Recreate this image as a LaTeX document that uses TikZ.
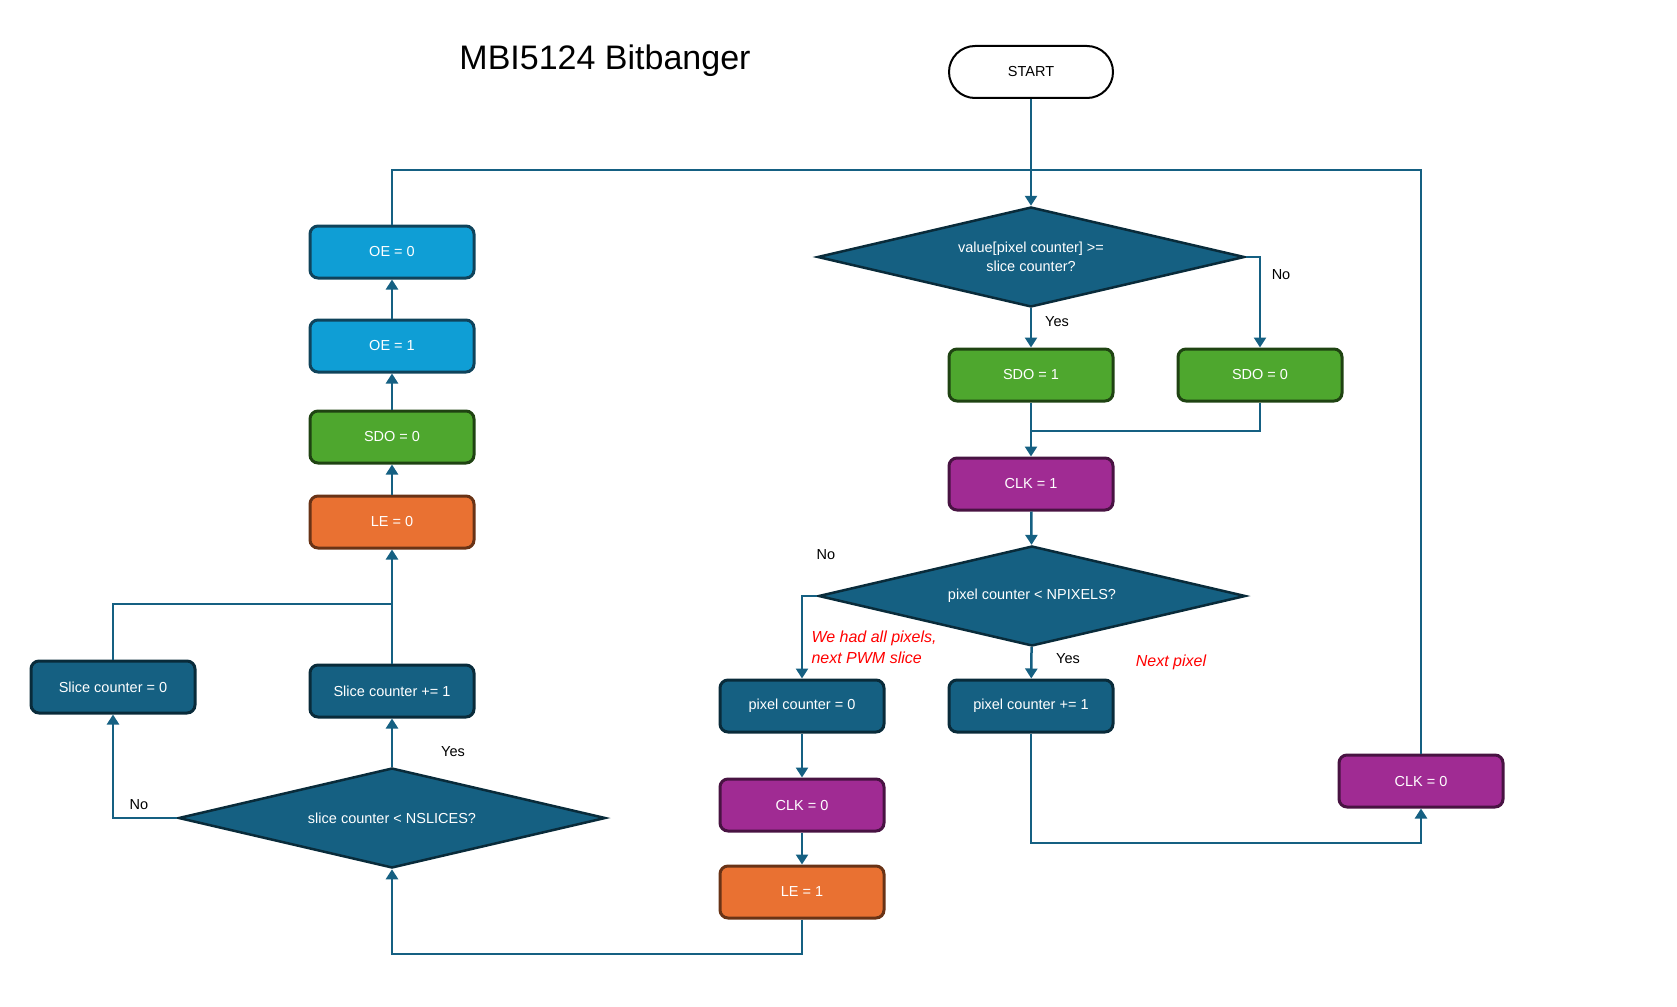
\documentclass[tikz,border=0pt]{standalone}
\usepackage{fontspec}
\setmainfont{Liberation Sans}
\usetikzlibrary{shapes.geometric,arrows.meta}

\definecolor{darkteal}{HTML}{156082}
\definecolor{skyblue}{HTML}{0F9ED5}
\definecolor{leafgreen}{HTML}{4EA72E}
\definecolor{carrot}{HTML}{E97132}
\definecolor{plum}{HTML}{A02B93}

\begin{document}
\begin{tikzpicture}
    [x=1pt,y=-1pt,
     boxstyle/.style={rectangle,rounded corners=8pt,line width=3pt,text=white,
       minimum width=164pt,minimum height=52pt,font=\fontsize{14.5}{18}\selectfont},
     tealbox/.style={boxstyle,fill=darkteal,draw=darkteal!45!black},
     skybox/.style={boxstyle,fill=skyblue,draw=darkteal!70!black},
     greenbox/.style={boxstyle,fill=leafgreen,draw=leafgreen!40!black},
     orangebox/.style={boxstyle,fill=carrot,draw=carrot!45!black},
     plumbox/.style={boxstyle,fill=plum,draw=plum!45!black},
     decision/.style={diamond,aspect=4.2,inner sep=0pt,line width=2.5pt,fill=darkteal,
       draw=darkteal!45!black,text=white,align=center,
       minimum width=427pt,minimum height=100pt,font=\fontsize{14.5}{19}\selectfont},
     flow/.style={draw=darkteal,line width=2.5pt},
     flowarrow/.style={flow,-{Triangle[length=10pt,width=12pt]}},
     answer/.style={font=\fontsize{14.5}{18}\selectfont},
     remark/.style={text=red,align=left,font=\fontsize{16}{21}\selectfont\itshape}]

    \useasboundingbox (0,0) rectangle (1677,1006);

    \node [font=\fontsize{34}{40}\selectfont] (title) at (605,61) {MBI5124 Bitbanger};
    \node [rectangle,rounded corners=26pt,draw=black,line width=2pt,fill=white,
      minimum width=164pt,minimum height=52pt,font=\fontsize{14.5}{18}\selectfont] (start) at (1031,72) {START};

    % right column
    \node [decision] (pixval) at (1031,257) {value[pixel counter] >=\\slice counter?};
    \node [greenbox] (sdohigh) at (1031,375) {SDO = 1};
    \node [greenbox] (sdolow) at (1260,375) {SDO = 0};
    \node [plumbox] (clkhigh) at (1031,484) {CLK = 1};
    \node [decision] (pixcount) at (1032,596) {pixel counter < NPIXELS?};
    \node [tealbox] (pixreset) at (802,706) {pixel counter = 0};
    \node [tealbox] (pixnext) at (1031,706) {pixel counter += 1};
    \node [plumbox] (clklowa) at (802,805) {CLK = 0};
    \node [orangebox] (lehigh) at (802,892) {LE = 1};
    \node [plumbox] (clklowb) at (1421,781) {CLK = 0};

    % left column
    \node [skybox] (oelow) at (392,252) {OE = 0};
    \node [skybox] (oehigh) at (392,346) {OE = 1};
    \node [greenbox] (sdoend) at (392,437) {SDO = 0};
    \node [orangebox] (lelow) at (392,522) {LE = 0};
    \node [tealbox] (slicereset) at (113,687) {Slice counter = 0};
    \node [tealbox] (slicenext) at (392,691) {Slice counter += 1};
    \node [decision] (slicecount) at (392,818) {slice counter < NSLICES?};

    % labels
    \node [answer] (yesval) at (1057,322) {Yes};
    \node [answer] (noval) at (1281,275) {No};
    \node [answer] (nopix) at (826,555) {No};
    \node [answer] (yespix) at (1068,659) {Yes};
    \node [answer] (yesslice) at (453,752) {Yes};
    \node [answer] (noslice) at (139,805) {No};
    \node [remark,anchor=west] (allpix) at (808,647) {We had all pixels,\\next PWM slice};
    \node [remark] (nextpix) at (1171,662) {Next pixel};

    % helper points
    \coordinate (looptop) at (0,170);
    \coordinate (sdojoin) at (0,431);
    \coordinate (slicejoin) at (0,604);
    \coordinate (pixjoin) at (0,843);
    \coordinate (lejoin) at (0,954);

    % connectors
    \draw [flowarrow] (start) -- (pixval);
    \draw [flowarrow] (pixval) -- (sdohigh);
    \draw [flowarrow] (pixval.east) -| (sdolow);
    \draw [flow] (sdolow.south) -- (sdolow.south |- sdojoin) -- (sdohigh.south |- sdojoin);
    \draw [flowarrow] (sdohigh) -- (clkhigh);
    \draw [flowarrow] (clkhigh) -- (pixcount);
    \draw [flowarrow] (pixcount.west) -| (pixreset);
    \draw [flowarrow] (pixcount) -- (pixnext);
    \draw [flowarrow] (pixreset) -- (clklowa);
    \draw [flowarrow] (clklowa) -- (lehigh);
    \draw [flowarrow] (lehigh.south) -- (lehigh.south |- lejoin) -| (slicecount.south);
    \draw [flowarrow] (pixnext.south) -- (pixnext.south |- pixjoin) -| (clklowb.south);
    \draw [flow] (clklowb.north) -- (clklowb.north |- looptop) -- (oelow.north |- looptop) -- (oelow.north);
    \draw [flowarrow] (slicecount.west) -| (slicereset.south);
    \draw [flowarrow] (slicecount.north) -- (slicenext.south);
    \draw [flowarrow] (slicenext) -- (lelow);
    \draw [flow] (slicereset.north) -- (slicereset.north |- slicejoin) -- (slicenext.north |- slicejoin);
    \draw [flowarrow] (lelow) -- (sdoend);
    \draw [flowarrow] (sdoend) -- (oehigh);
    \draw [flowarrow] (oehigh) -- (oelow);
\end{tikzpicture}
\end{document}
